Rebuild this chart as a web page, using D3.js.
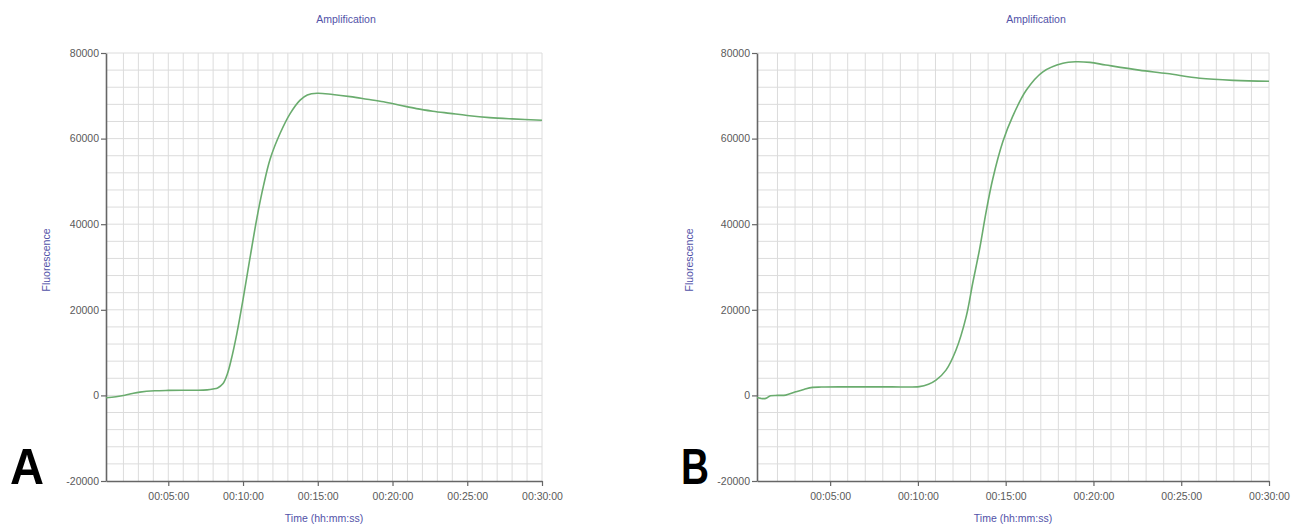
<!DOCTYPE html>
<html>
<head>
<meta charset="utf-8">
<script src="https://cdn.jsdelivr.net/npm/d3@7"></script>
<style>
  html, body { margin: 0; padding: 0; background: #fff; }
  svg { display: block; }
</style>
</head>
<body>
<svg id="chart" width="1308" height="528"></svg>
<script>
// ---- data (time in minutes, fluorescence in RFU) ----
const timeA = [0.83, 1.5, 2.1, 2.6, 3.1, 4.1, 5, 6, 7, 7.6, 8, 8.3, 8.65, 8.95, 9.2, 9.59, 10.03, 10.48, 10.93, 11.37, 11.82, 12.49, 13.16, 13.82, 14.3, 14.96, 16, 17.17, 18.3, 19.4, 20.5, 21.6, 22.7, 23.85, 25, 26.5, 28, 30];
const fluorA = [-560, -300, 50, 450, 770, 1080, 1170, 1200, 1200, 1300, 1500, 1750, 2700, 5000, 8200, 14500, 23000, 32400, 41500, 49000, 55300, 61300, 65900, 69000, 70200, 70600, 70300, 69800, 69200, 68600, 67800, 67000, 66400, 65900, 65400, 64900, 64600, 64300];

const timeB = [0.83, 1.05, 1.33, 1.6, 2.0, 2.47, 3.04, 3.5, 4.0, 4.5, 5.5, 7, 8.5, 10.08, 10.6, 11.03, 11.6, 12.17, 12.75, 13.12, 13.5, 13.89, 14.26, 14.84, 15.41, 16.17, 17.12, 18.26, 19.0, 19.8, 20.7, 22.6, 24.2, 26.06, 28, 30];
const fluorB = [-500, -700, -700, -100, 0, 70, 840, 1400, 1870, 1950, 2000, 2000, 2000, 2050, 2600, 3570, 5900, 10600, 18400, 26200, 33900, 43000, 50500, 59300, 65300, 71300, 75600, 77600, 77950, 77800, 77200, 76000, 75200, 74100, 73600, 73400];

const xTickMinutes = [5, 10, 15, 20, 25, 30];
const xTickLabels = ["00:05:00", "00:10:00", "00:15:00", "00:20:00", "00:25:00", "00:30:00"];
const yTicks = [-20000, 0, 20000, 40000, 60000, 80000];
const yTickLabels = ["-20000", "0", "20000", "40000", "60000", "80000"];
const chartTitle = "Amplification";
const xTitle = "Time (hh:mm:ss)";
const yTitle = "Fluorescence";
const panelLetters = ["A", "B"];

// ---- drawing ----
const svg = d3.select("#chart");
const panels = [
  { t: timeA, v: fluorA, x0: 106, x1: 542, titleX: 346, yLabX: 50, letter: panelLetters[0], letX: 10, letW: 34 },
  { t: timeB, v: fluorB, x0: 757, x1: 1269, titleX: 1036, yLabX: 693, letter: panelLetters[1], letX: 681, letW: 28 }
];
const plotTop = 53, plotBottom = 481;
const tickColor = "#5a5a5a";
const titleColor = "#5252a8";

panels.forEach(p => {
  const x = d3.scaleLinear().domain([0.8333, 30]).range([p.x0, p.x1]);
  const y = d3.scaleLinear().domain([-20000, 80000]).range([plotBottom, plotTop]);
  const g = svg.append("g");

  // grid
  const vGrid = d3.range(2, 31);
  g.selectAll(".vg").data(vGrid).join("line")
    .attr("x1", d => x(d)).attr("x2", d => x(d))
    .attr("y1", plotTop).attr("y2", plotBottom)
    .attr("stroke", "#dcdcdc").attr("stroke-width", 1);
  const hGrid = d3.range(-16000, 80001, 4000);
  g.selectAll(".hg").data(hGrid).join("line")
    .attr("x1", p.x0).attr("x2", p.x1)
    .attr("y1", d => y(d)).attr("y2", d => y(d))
    .attr("stroke", "#dcdcdc").attr("stroke-width", 1);

  // axes
  const xAxis = d3.axisBottom(x).tickValues(xTickMinutes)
    .tickFormat((d, i) => xTickLabels[i]).tickSize(5).tickSizeOuter(0);
  const gx = g.append("g").attr("transform", `translate(0,${plotBottom})`).call(xAxis);
  gx.select(".domain").attr("stroke", "#666").attr("stroke-width", 1.6);
  gx.selectAll(".tick line").attr("stroke", "#666").attr("stroke-width", 1.2);
  gx.selectAll("text").attr("fill", tickColor).attr("font-size", "10.5px")
    .attr("font-family", "Liberation Sans, Arial, sans-serif").attr("dy", "1.05em");

  const yAxis = d3.axisLeft(y).tickValues(yTicks).tickFormat((d, i) => yTickLabels[i])
    .tickSize(5).tickSizeOuter(0);
  const gy = g.append("g").attr("transform", `translate(${p.x0},0)`).call(yAxis);
  gy.select(".domain").attr("stroke", "#666").attr("stroke-width", 1.6);
  gy.selectAll(".tick line").attr("stroke", "#666").attr("stroke-width", 1.2);
  gy.selectAll("text").attr("fill", tickColor).attr("font-size", "10.5px")
    .attr("font-family", "Liberation Sans, Arial, sans-serif").attr("x", -7);

  // line
  const data = p.t.map((t, i) => ({ t, v: p.v[i] }));
  const line = d3.line().x(d => x(d.t)).y(d => y(d.v)).curve(d3.curveCatmullRom.alpha(0.5));
  g.append("path").datum(data).attr("d", line)
    .attr("fill", "none").attr("stroke", "#6aac6e").attr("stroke-width", 1.6);

  // titles
  g.append("text").attr("x", p.titleX).attr("y", 23).attr("text-anchor", "middle")
    .attr("fill", titleColor).attr("font-size", "10.5px")
    .attr("font-family", "Liberation Sans, Arial, sans-serif").text(chartTitle);
  g.append("text").attr("x", (p.x0 + p.x1) / 2).attr("y", 522).attr("text-anchor", "middle")
    .attr("fill", titleColor).attr("font-size", "10.5px")
    .attr("font-family", "Liberation Sans, Arial, sans-serif").text(xTitle);
  g.append("text").attr("transform", `translate(${p.yLabX},260) rotate(-90)`)
    .attr("text-anchor", "middle").attr("fill", titleColor).attr("font-size", "10.5px")
    .attr("font-family", "Liberation Sans, Arial, sans-serif").text(yTitle);

  // panel letter
  g.append("text").attr("x", p.letX).attr("y", 484)
    .attr("font-size", "50px").attr("font-weight", "bold").attr("fill", "#000")
    .attr("font-family", "Liberation Sans, Arial, sans-serif")
    .attr("textLength", p.letW).attr("lengthAdjust", "spacingAndGlyphs")
    .text(p.letter);
});
</script>
</body>
</html>
